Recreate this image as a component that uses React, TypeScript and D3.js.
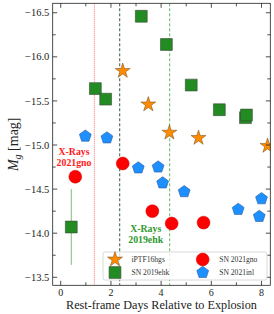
import React from 'react';
import * as d3 from 'd3';

// iPTF16hgs
const iptfDays = [2.47, 3.49, 4.33, 5.49, 8.24];
const iptfMag = [-15.84, -15.46, -15.14, -15.08, -14.99];

// SN 2019ehk
const ehkDays = [0.42, 1.38, 1.79, 3.21, 4.21, 5.2, 6.32, 7.36, 7.4];
const ehkMag = [-14.07, -15.64, -15.52, -16.46, -16.14, -15.68, -15.4, -15.31, -15.34];
const ehkErr = [0.43, 0, 0, 0, 0, 0, 0, 0, 0];

// SN 2021gno
const gnoDays = [0.58, 2.47, 3.65, 4.42, 5.69];
const gnoMag = [-14.64, -14.79, -14.25, -14.11, -14.12];

// SN 2021inl
const inlDays = [0.98, 1.84, 3.09, 3.88, 4.06, 4.92, 7.07, 8.0, 7.91];
const inlMag = [-15.1, -15.08, -14.74, -14.75, -14.57, -14.47, -14.27, -14.39, -14.19];

// x-ray detection epochs
const xrayGno = 1.34;
const xrayEhk = [2.35, 4.34];

const xTicks = [0, 2, 4, 6, 8];
const xMinor = [1, 3, 5, 7];
const yTicks = [-16.5, -16.0, -15.5, -15.0, -14.5, -14.0, -13.5];

const W = 274;
const H = 314;
const left = 52.7, right = 270.3, top = 3.3, bottom = 285.3;

const serif = '"Liberation Serif", "Times New Roman", serif';

const pentagon = {
  draw(ctx: any, size: number) {
    const r = Math.sqrt(size / 2.378);
    for (let i = 0; i < 5; i++) {
      const a = -Math.PI / 2 + (i * 2 * Math.PI) / 5;
      const px = r * Math.cos(a), py = r * Math.sin(a);
      if (i === 0) ctx.moveTo(px, py); else ctx.lineTo(px, py);
    }
    ctx.closePath();
  },
};

const starPath = d3.symbol(d3.symbolStar, 70)()!;
const squarePath = d3.symbol(d3.symbolSquare, 140)()!;
const circlePath = d3.symbol(d3.symbolCircle, 130)()!;
const pentPath = d3.symbol(pentagon as any, 92)()!;

const styles = {
  star: { d: starPath, fill: '#ff8c00', stroke: '#6b4a20', sw: 0.5 },
  square: { d: squarePath, fill: '#228b22', stroke: '#3b4a3b', sw: 0.6 },
  circle: { d: circlePath, fill: '#ff0000', stroke: '#d00000', sw: 0.5 },
  pent: { d: pentPath, fill: '#1e8fff', stroke: '#2b5d9a', sw: 0.6 },
};

const fmt = (v: number) => (v < 0 ? '\u2212' : '') + Math.abs(v).toFixed(1);

export default function App() {
  const x = d3.scaleLinear().domain([-0.32, 8.35]).range([left, right]);
  const y = d3.scaleLinear().domain([-16.607, -13.409]).range([top, bottom]);
  const yMinor = d3.range(-16.5, -13.4, 0.25).filter((v) => Math.abs(v * 2 - Math.round(v * 2)) > 0.01);

  const marks = (days: number[], mags: number[], s: any, key: string) =>
    days.map((d, i) => (
      <path key={key + i} d={s.d} transform={`translate(${x(d)},${y(mags[i])})`}
        fill={s.fill} stroke={s.stroke} strokeWidth={s.sw} />
    ));

  const legendItems = [
    { label: 'iPTF16hgs', s: styles.star, col: 0, row: 0 },
    { label: 'SN 2019ehk', s: styles.square, col: 0, row: 1 },
    { label: 'SN 2021gno', s: styles.circle, col: 1, row: 0 },
    { label: 'SN 2021inl', s: styles.pent, col: 1, row: 1 },
  ];
  const lgX = right - 167.3, lgY = bottom - 33.3;

  return (
    <svg width={W} height={H} style={{ position: 'absolute', left: 0, top: 0 }} fontFamily={serif}>
      <defs>
        <clipPath id="plot">
          <rect x={left} y={top} width={right - left} height={bottom - top} />
        </clipPath>
      </defs>
      <rect width={W} height={H} fill="#fff" />

      <g clipPath="url(#plot)">
        <line x1={x(xrayGno)} x2={x(xrayGno)} y1={top} y2={bottom} stroke="#ff7070" strokeWidth={1} strokeDasharray="1,1" />
        <line x1={x(xrayEhk[0])} x2={x(xrayEhk[0])} y1={top} y2={bottom} stroke="#24452a" strokeWidth={0.9} strokeDasharray="3,2" />
        <line x1={x(xrayEhk[1])} x2={x(xrayEhk[1])} y1={top} y2={bottom} stroke="#4fae4f" strokeWidth={0.9} strokeDasharray="3,2" />

        {ehkDays.map((d, i) => ehkErr[i] > 0 ? (
          <line key={'e' + i} x1={x(d)} x2={x(d)} y1={y(ehkMag[i] - ehkErr[i])} y2={y(ehkMag[i] + ehkErr[i])}
            stroke="#7cbf7c" strokeWidth={1} />
        ) : null)}

        {marks(iptfDays, iptfMag, styles.star, 's')}
        {marks(ehkDays, ehkMag, styles.square, 'q')}
        {marks(gnoDays, gnoMag, styles.circle, 'c')}
        {marks(inlDays, inlMag, styles.pent, 'p')}
      </g>

      <g fontWeight="bold" fontSize={9.8} textAnchor="middle">
        <text x={74} y={154.6} fill="#ff1a1a">X-Rays</text>
        <text x={74} y={165.5} fill="#ff1a1a">2021gno</text>
        <text x={145.7} y={232.3} fill="#2f9a2f">X-Rays</text>
        <text x={145.7} y={243.2} fill="#2f9a2f">2019ehk</text>
      </g>

      {/* spines and ticks */}
      <rect x={left} y={top} width={right - left} height={bottom - top} fill="none" stroke="#222" strokeWidth={0.8} />
      <g stroke="#222" strokeWidth={0.8}>
        {xTicks.map((t) => (
          <g key={'xt' + t}>
            <line x1={x(t)} x2={x(t)} y1={bottom} y2={bottom - 4.5} />
            <line x1={x(t)} x2={x(t)} y1={top} y2={top + 4.5} />
          </g>
        ))}
        {xMinor.map((t) => (
          <g key={'xm' + t}>
            <line x1={x(t)} x2={x(t)} y1={bottom} y2={bottom - 3} />
            <line x1={x(t)} x2={x(t)} y1={top} y2={top + 3} />
          </g>
        ))}
        {yTicks.map((t) => (
          <g key={'yt' + t}>
            <line x1={left} x2={left + 4.5} y1={y(t)} y2={y(t)} />
            <line x1={right} x2={right - 4.5} y1={y(t)} y2={y(t)} />
          </g>
        ))}
        {yMinor.map((t) => (
          <g key={'ym' + t}>
            <line x1={left} x2={left + 3} y1={y(t)} y2={y(t)} />
            <line x1={right} x2={right - 3} y1={y(t)} y2={y(t)} />
          </g>
        ))}
      </g>

      <g fontSize={10.5} fill="#222">
        {yTicks.map((t) => (
          <text key={'yl' + t} x={left - 3.4} y={y(t) + 3.6} textAnchor="end">{fmt(t)}</text>
        ))}
      </g>
      <g fontSize={10} fill="#222">
        {xTicks.map((t) => (
          <text key={'xl' + t} x={x(t)} y={bottom + 10.6} textAnchor="middle">{t}</text>
        ))}
      </g>

      <text x={(left + right) / 2} y={bottom + 23.7} textAnchor="middle" fontSize={12.2} fill="#222">
        Rest-frame Days Relative to Explosion
      </text>
      <text transform={`translate(17.5,${(top + bottom) / 2}) rotate(-90)`} textAnchor="middle" fontSize={14} fill="#222">
        <tspan fontStyle="italic">M</tspan>
        <tspan fontStyle="italic" fontSize={10} dy={3}>g</tspan>
        <tspan dy={-3}> [mag]</tspan>
      </text>

      {/* legend */}
      <g transform={`translate(${lgX},${lgY})`}>
        <rect x={0} y={0} width={164} height={28} rx={2} fill="#fff" fillOpacity={0.8} stroke="#d0d0d0" strokeWidth={0.8} />
        {legendItems.map((it) => (
          <g key={it.label} transform={`translate(${12 + it.col * 87.7},${7.5 + it.row * 13})`}>
            <path d={it.s.d} fill={it.s.fill} stroke={it.s.stroke} strokeWidth={it.s.sw} />
            <text x={16.5} y={2.7} fontSize={7.6} fill="#333">{it.label}</text>
          </g>
        ))}
      </g>
    </svg>
  );
}
